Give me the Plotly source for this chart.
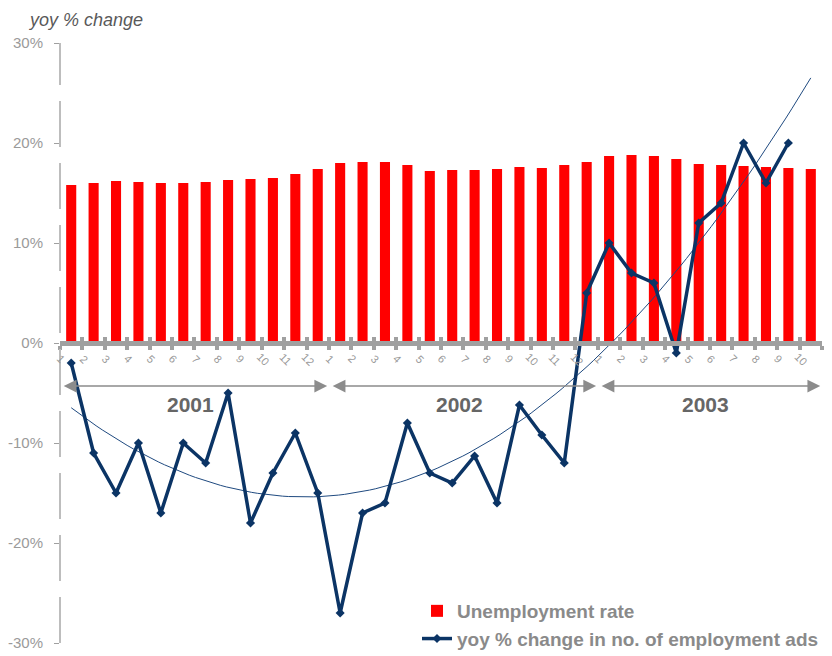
import numpy as np
import plotly.graph_objects as go

# ---------------- data ----------------
years = ["2001", "2002", "2003"]
months_per_year = [12, 12, 10]
month_labels = [str(m) for n in months_per_year for m in range(1, n + 1)]

unemployment_rate = [
    15.8, 16.0, 16.2, 16.1, 16.0, 16.0, 16.1, 16.3, 16.4, 16.5, 16.9, 17.4,
    18.0, 18.1, 18.1, 17.8, 17.2, 17.3, 17.3, 17.4, 17.6, 17.5, 17.8, 18.1,
    18.7, 18.8, 18.7, 18.4, 17.9, 17.8, 17.7, 17.6, 17.5, 17.4,
]
ads_yoy_change = [
    -2, -11, -15, -10, -17, -10, -12, -5, -18, -13, -9, -15,
    -27, -17, -16, -8, -13, -14, -11.3, -16, -6.2, -9.2, -12, 5,
    10, 7, 6, -1, 12, 14, 20, 16, 20,
]
y_tick_values = [-30, -20, -10, 0, 10, 20, 30]
y_tick_labels = ["-30%", "-20%", "-10%", "0%", "10%", "20%", "30%"]

# ---------------- derived ----------------
n = len(month_labels)
xs = list(range(n))
xl = list(range(len(ads_yoy_change)))
coef = np.polyfit(xl, ads_yoy_change, 2)
trend_x = np.linspace(0, len(ads_yoy_change), 120)  # one period forecast
trend_y = np.polyval(coef, trend_x)

FONT = "Arial, Liberation Sans, sans-serif"
NAVY = "#0b3465"
GREY = "#a0a0a0"
W, H = 824, 648   # page body has an 8px margin

fig = go.Figure()
fig.add_trace(go.Bar(
    x=xs, y=unemployment_rate, name="Unemployment rate",
    marker=dict(color="#ff0000", line=dict(width=0)), width=0.45,
))
fig.add_trace(go.Scatter(
    x=trend_x, y=trend_y, mode="lines", showlegend=False,
    line=dict(color="#1f4a80", width=1), hoverinfo="skip",
))
fig.add_trace(go.Scatter(
    x=xl, y=ads_yoy_change, mode="lines+markers",
    name="yoy % change in no. of employment ads",
    line=dict(color=NAVY, width=3.5),
    marker=dict(symbol="diamond", size=7, color=NAVY),
))
# empty helper trace so the second (upward-tick) x axis is drawn
fig.add_trace(go.Scatter(x=[], y=[], xaxis="x2", showlegend=False, hoverinfo="skip"))

annotations = []
for i, lab in enumerate(month_labels):
    annotations.append(dict(
        x=i - 0.45, y=-1.6, xref="x", yref="y", text=lab, showarrow=False,
        textangle=45, font=dict(family=FONT, size=11, color="#999999"),
    ))
start = 0
for yr, cnt in zip(years, months_per_year):
    x0 = start - 0.5 + 0.1
    x1 = start + cnt - 0.5 - 0.08
    annotations.append(dict(
        x=x1, y=-4.3, ax=x0, ay=-4.3, xref="x", yref="y", axref="x", ayref="y",
        text="", showarrow=True, arrowside="end+start",
        arrowhead=2, startarrowhead=2, arrowsize=1.7, startarrowsize=1.7,
        arrowwidth=1.5, arrowcolor="#8c8c8c",
    ))
    annotations.append(dict(
        x=(x0 + x1) / 2 - 0.2, y=-6.1, xref="x", yref="y", text=f"<b>{yr}</b>",
        showarrow=False, font=dict(family=FONT, size=21, color="#666666"),
    ))
    start += cnt

annotations.append(dict(
    x=-34 / 762, y=1 + 35 / 600, xref="paper", yref="paper",
    xanchor="left", yanchor="top",
    text="<i>yoy % change</i>", showarrow=False,
    font=dict(family=FONT, size=18, color="#595959"),
))

tick_bounds = [i - 0.5 for i in range(n + 1)]
axis_common = dict(
    range=[-0.5, n - 0.5], anchor="free", position=0.5,
    showgrid=False, zeroline=False, showticklabels=False,
    showline=True, linewidth=5, linecolor=GREY,
    tickmode="array", tickvals=tick_bounds,
    ticklen=4, tickwidth=4, tickcolor=GREY,
)

fig.update_layout(
    width=W, height=H,
    margin=dict(l=52, r=10, t=35, b=13, autoexpand=False),
    paper_bgcolor="white", plot_bgcolor="white",
    font=dict(family=FONT),
    bargap=0.55,
    showlegend=True,
    legend=dict(
        xref="container", yref="container",
        x=409 / W, y=1 - 584 / H, xanchor="left", yanchor="top",
        bgcolor="rgba(0,0,0,0)",
        font=dict(family=FONT, size=19, color="#8a8a8a", weight="bold"),
    ),
    annotations=annotations,
    xaxis=dict(ticks="outside", **axis_common),
    xaxis2=dict(ticks="inside", overlaying="x", **axis_common),
    yaxis=dict(
        range=[-30, 30], showgrid=False, zeroline=False, showline=False,
        tickmode="array", tickvals=y_tick_values, ticktext=y_tick_labels,
        ticks="outside", ticklen=5, tickwidth=1, tickcolor=GREY,
        ticklabelstandoff=8,
        tickfont=dict(family=FONT, size=15, color="#9a9a9a"),
    ),
    shapes=[dict(
        type="line", xref="paper", yref="paper", x0=0, x1=0, y0=0, y1=1,
        line=dict(color="#bdbdbd", width=2, dash="46px,16px"), layer="above",
    )],
)

fig.write_html("out.html")
